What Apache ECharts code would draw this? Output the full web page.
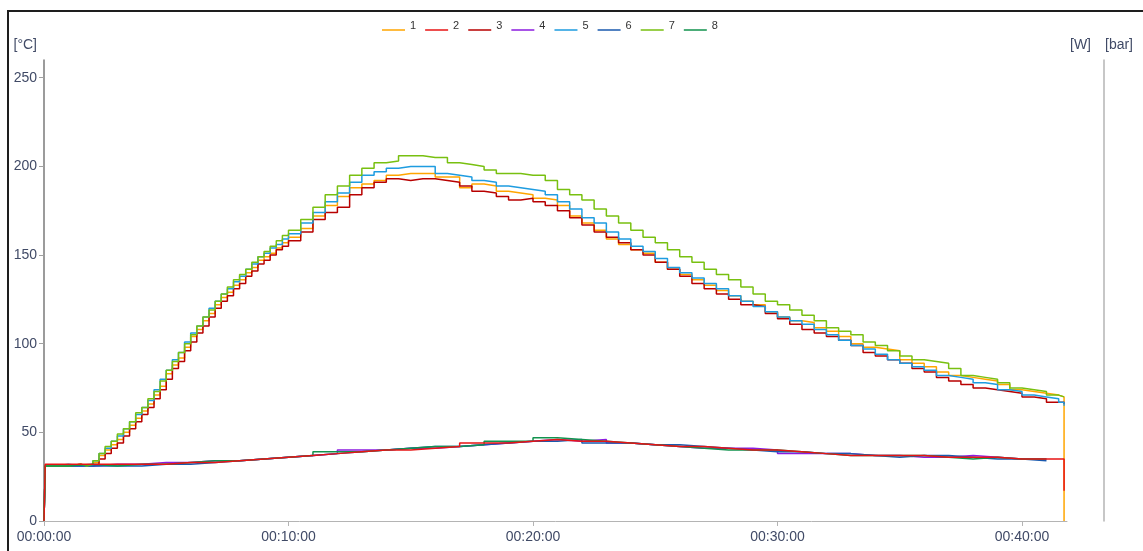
<!DOCTYPE html>
<html>
<head>
<meta charset="utf-8">
<script src="https://cdn.jsdelivr.net/npm/echarts@6/dist/echarts.min.js"></script>
<style>
  html, body { margin: 0; padding: 0; background: #fff; }
  #chart { width: 1143px; height: 551px; }
</style>
</head>
<body>
<div id="chart"></div>
<script>
// Sample times in minutes for the probe channels 1, 3, 5, 7
const timesHigh = [0, 0.05, 0.5, 1, 1.5, 1.75, 2, 2.25, 2.5, 2.75, 3, 3.25, 3.5, 3.75, 4, 4.25, 4.5, 4.75,
  5, 5.25, 5.5, 5.75, 6, 6.25, 6.5, 6.75, 7, 7.25, 7.5, 7.75, 8, 8.25, 8.5, 8.75, 9, 9.25, 9.5, 9.75, 10,
  10.5, 11, 11.5, 12, 12.5, 13, 13.5, 14, 14.5, 15, 15.5, 16, 16.5, 17, 17.5, 18, 18.5, 19, 19.5, 20,
  20.5, 21, 21.5, 22, 22.5, 23, 23.5, 24, 24.5, 25, 25.5, 26, 26.5, 27, 27.5, 28, 28.5, 29, 29.5, 30,
  30.5, 31, 31.5, 32, 32.5, 33, 33.5, 34, 34.5, 35, 35.5, 36, 36.5, 37, 37.5, 38, 38.5, 39, 39.5, 40,
  40.5, 41, 41.5, 41.72];

const ch1 = [0, 31, 31, 32, 31, 31, 33, 37, 40, 43, 46, 50, 54, 58, 62, 66, 71, 76,
  83, 88, 92, 98, 104, 108, 113, 117, 122, 126, 129, 133, 136, 140, 143, 147, 149, 151, 154, 157, 160,
  165, 172, 178, 183, 188, 190, 192, 195, 196, 196, 196, 194, 194, 188, 190, 189, 186, 185, 184, 182,
  181, 178, 172, 168, 164, 159, 156, 153, 151, 146, 142, 139, 136, 133, 130, 127, 124, 122, 118, 115,
  113, 112, 109, 107, 104, 100, 98, 97, 96, 91, 89, 87, 84, 82, 81, 80, 79, 77, 74, 73,
  72, 71, 70, 0];

const ch3 = [0, 31, 31, 32, 31, 31, 32, 35, 38, 41, 44, 48, 52, 56, 60, 64, 69, 74,
  80, 86, 90, 96, 101, 106, 110, 115, 120, 124, 127, 131, 134, 138, 141, 145, 147, 150, 153, 155, 158,
  163, 170, 174, 177, 184, 188, 191, 193, 192, 193, 193, 192, 191, 189, 186, 185, 183, 181, 182, 180,
  178, 175, 171, 167, 163, 160, 157, 153, 150, 146, 142, 138, 134, 131, 128, 125, 122, 121, 117, 114,
  111, 108, 106, 104, 102, 99, 95, 93, 91, 89, 86, 84, 81, 79, 77, 75, 74, 73, 72, 70,
  69, 67, 67, 66];

const ch5 = [0, 31, 32, 31, 31, 31, 34, 38, 41, 45, 48, 52, 56, 60, 64, 68, 74, 80,
  85, 91, 95, 101, 106, 110, 115, 120, 124, 128, 131, 135, 138, 142, 145, 149, 151, 154, 156, 159, 162,
  168, 174, 180, 185, 191, 195, 197, 199, 200, 200, 200, 196, 195, 194, 192, 191, 189, 188, 187, 186,
  184, 180, 176, 171, 168, 163, 159, 155, 152, 148, 143, 140, 137, 134, 131, 127, 124, 121, 118, 115,
  113, 111, 108, 105, 102, 99, 97, 94, 91, 89, 87, 85, 82, 81, 80, 78, 77, 74, 73, 71,
  70, 69, 67, 65];

const ch7 = [0, 31, 31, 32, 31, 32, 34, 38, 42, 45, 49, 52, 56, 61, 64, 69, 73, 79,
  85, 90, 95, 100, 105, 110, 115, 119, 124, 128, 132, 136, 139, 142, 146, 149, 152, 155, 158, 161, 164,
  170, 177, 184, 189, 195, 199, 202, 203, 206, 206, 205, 205, 202, 201, 200, 198, 196, 196, 195, 195,
  192, 187, 184, 181, 176, 172, 168, 164, 160, 157, 153, 149, 146, 142, 139, 136, 132, 128, 124, 122,
  119, 116, 113, 109, 107, 105, 101, 99, 96, 93, 91, 90, 89, 86, 82, 81, 80, 78, 75, 74,
  73, 71, 70, 70];

// Sample times in minutes for the channels 2, 4, 6, 8
const timesLow = [0, 0.05, 1, 2, 3, 4, 5, 6, 7, 8, 9, 10, 11, 12, 13, 14, 15, 16, 17, 18, 19, 20,
  21, 22, 23, 24, 25, 26, 27, 28, 29, 30, 31, 32, 33, 34, 35, 36, 37, 38, 39, 40, 41, 41.72];

const ch2 = [0, 32, 32, 32, 32, 32, 33, 33, 34, 35, 36, 37, 38, 39, 40, 40, 41, 42, 44, 44, 45, 46,
  45, 45, 44, 43, 42, 42, 41, 40, 40, 39, 38, 37, 37, 37, 37, 36, 36, 36, 35, 35, 35, 17];

const ch4 = [0, 31, 31, 32, 32, 33, 33, 34, 34, 35, 36, 37, 38, 40, 40, 41, 41, 42, 43, 44, 45, 46,
  45, 46, 44, 43, 42, 41, 41, 41, 40, 38, 38, 38, 37, 37, 36, 36, 37, 36, 35, 35, null, null];

const ch6 = [0, 31, 31, 31, 31, 32, 32, 33, 34, 35, 36, 37, 38, 39, 40, 41, 42, 42, 43, 44, 45, 45,
  46, 44, 44, 43, 43, 42, 41, 40, 39, 39, 38, 38, 37, 36, 37, 37, 36, 35, 35, 34, null, null];

const ch8 = [0, 31, 32, 31, 32, 32, 33, 34, 34, 35, 36, 37, 39, 39, 40, 41, 42, 42, 43, 45, 45, 47,
  46, 45, 44, 43, 42, 41, 40, 40, 40, 39, 38, 37, 37, 37, 37, 36, 35, 36, 35, 35, null, null];

const channelNames = ['1', '2', '3', '4', '5', '6', '7', '8'];
const channelColors = ['#FFA500', '#E81414', '#B80000', '#8C1CE0', '#1E9CE0', '#1A5AAE', '#78C010', '#12934E'];
const yTicks = { min: 0, max: 260, step: 50 };
const xRange = { min: 0, max: 41.84, step: 10 };

const channels = [
  { t: timesHigh, v: ch1 },
  { t: timesLow, v: ch2 },
  { t: timesHigh, v: ch3 },
  { t: timesLow, v: ch4 },
  { t: timesHigh, v: ch5 },
  { t: timesLow, v: ch6 },
  { t: timesHigh, v: ch7 },
  { t: timesLow, v: ch8 }
];

function pad2(n) { return (n < 10 ? '0' : '') + n; }
function clockLabel(minutes) {
  const m = Math.round(minutes);
  return pad2(Math.floor(m / 60)) + ':' + pad2(m % 60) + ':00';
}

const labelColor = '#404a66';
const font = 'Liberation Sans, Arial, sans-serif';

// Legend marker: a short underline below the label (the zero-area first subpath sets the box height)
const underlineIcon = 'path://M0,0L23,0L23,0.001Z M0,9L23,9L23,10.6L0,10.6Z';

const series = channels.map((c, i) => ({
  name: channelNames[i],
  type: 'line',
  step: 'end',
  showSymbol: false,
  symbol: 'none',
  connectNulls: false,
  z: i === 1 ? 4 : 2,
  lineStyle: { width: 1.5, color: channelColors[i] },
  itemStyle: { color: channelColors[i] },
  emphasis: { disabled: true },
  data: c.t.map((t, k) => [t, c.v[k]])
}));

const chart = echarts.init(document.getElementById('chart'), null, { renderer: 'canvas' });
chart.setOption({
  animation: false,
  backgroundColor: '#ffffff',
  textStyle: { fontFamily: font },
  grid: { left: 44, right: 76, top: 60, bottom: 30, containLabel: false },
  graphic: [
    { type: 'rect', silent: true, shape: { x: 7, y: 10, width: 2, height: 541 }, style: { fill: '#1e1e1e' } },
    { type: 'rect', silent: true, shape: { x: 7, y: 10, width: 1136, height: 2 }, style: { fill: '#1e1e1e' } }
  ],
  legend: {
    data: channelNames,
    left: 382,
    top: 20,
    padding: 0,
    icon: underlineIcon,
    itemWidth: 23,
    itemHeight: 10.6,
    itemGap: 9,
    selectedMode: false,
    textStyle: { fontSize: 11, color: '#333', fontFamily: font }
  },
  xAxis: {
    type: 'value',
    min: xRange.min,
    max: xRange.max,
    interval: xRange.step,
    axisLine: { show: true, lineStyle: { color: '#b4b4b4', width: 1 } },
    axisTick: { show: true, length: 5, lineStyle: { color: '#b4b4b4' } },
    splitLine: { show: false },
    axisLabel: {
      showMaxLabel: false,
      margin: 9,
      fontSize: 14,
      color: labelColor,
      fontFamily: font,
      formatter: clockLabel
    }
  },
  yAxis: [
    {
      type: 'value',
      position: 'left',
      min: yTicks.min,
      max: yTicks.max,
      interval: yTicks.step,
      name: '[°C]',
      nameLocation: 'end',
      nameGap: 8,
      nameTextStyle: { fontSize: 14, color: labelColor, fontFamily: font, align: 'right', padding: [0, 7, 0, 0] },
      axisLine: { show: true, lineStyle: { color: '#7a7a7a', width: 1.5 } },
      axisTick: { show: true, length: 5, lineStyle: { color: '#a0a0a0' } },
      splitLine: { show: false },
      axisLabel: { showMaxLabel: false, margin: 7, fontSize: 14, color: labelColor, fontFamily: font }
    },
    {
      type: 'value',
      position: 'right',
      min: 0,
      max: 1,
      name: '[W]',
      nameLocation: 'end',
      nameGap: 8,
      nameTextStyle: { fontSize: 14, color: labelColor, fontFamily: font, align: 'left', padding: [0, 0, 0, 3] },
      axisLine: { show: false },
      axisTick: { show: false },
      axisLabel: { show: false },
      splitLine: { show: false }
    },
    {
      type: 'value',
      position: 'right',
      offset: 37,
      min: 0,
      max: 1,
      name: '[bar]',
      nameLocation: 'end',
      nameGap: 8,
      nameTextStyle: { fontSize: 14, color: labelColor, fontFamily: font, align: 'center', padding: [0, 0, 0, 30] },
      axisLine: { show: true, lineStyle: { color: '#b4b4b4', width: 1.5 } },
      axisTick: { show: false },
      axisLabel: { show: false },
      splitLine: { show: false }
    }
  ],
  series: series
});
</script>
</body>
</html>
